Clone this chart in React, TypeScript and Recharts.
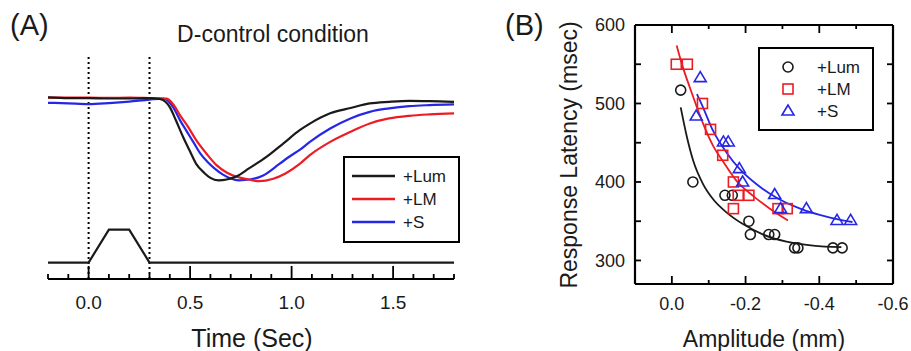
import { ComposedChart, Line, Scatter, XAxis, YAxis, ReferenceLine } from 'recharts'

const FONT = '"Liberation Sans", Arial, Helvetica, sans-serif'
const INK = '#1a1a1a'
const FRAME = 'black'
const RED = '#ec1c24'
const BLUE = '#2626e6'

const seriesNames = ['+Lum', '+LM', '+S']
const seriesColors = [INK, RED, BLUE]
const seriesMarkers = ['circle', 'square', 'triangle']

// (A) pupil traces: time in sec, pupil size scaled so the dip is about -1
const timeDomain = [-0.2, 1.8]
const pupilDomain = [-2.2, 0.5]
const timeTicks = [-0.2, -0.1, 0, 0.1, 0.2, 0.3, 0.4, 0.5, 0.6, 0.7, 0.8, 0.9, 1, 1.1, 1.2, 1.3, 1.4, 1.5, 1.6, 1.7, 1.8]
const timeLabels = [0, 0.5, 1, 1.5]
const stimulusWindow = [0, 0.3]

const lumTrace: [number, number][] = [
  [-0.2, 0.01], [-0.1, 0], [0, 0], [0.1, -0.005], [0.2, -0.005], [0.3, 0], [0.35, -0.01],
  [0.4, -0.11], [0.43, -0.27], [0.465, -0.47], [0.5, -0.65], [0.53, -0.8], [0.57, -0.91],
  [0.6, -0.97], [0.64, -1.0], [0.68, -0.99], [0.73, -0.95], [0.79, -0.855], [0.876, -0.715],
  [0.96, -0.55], [1.04, -0.39], [1.09, -0.31], [1.19, -0.185], [1.29, -0.12], [1.385, -0.065],
  [1.48, -0.045], [1.58, -0.033], [1.68, -0.036], [1.8, -0.045],
]
const lmTrace: [number, number][] = [
  [-0.2, 0.006], [-0.1, 0.006], [0, 0.006], [0.1, 0.002], [0.2, 0.006], [0.3, 0], [0.385, -0.006],
  [0.42, -0.085], [0.45, -0.207], [0.49, -0.349], [0.53, -0.511], [0.58, -0.673], [0.63, -0.815],
  [0.68, -0.904], [0.73, -0.957], [0.79, -0.99], [0.84, -1.01], [0.91, -0.98], [0.97, -0.916],
  [1.04, -0.8], [1.09, -0.693], [1.19, -0.532], [1.29, -0.41], [1.385, -0.308], [1.48, -0.247],
  [1.58, -0.215], [1.68, -0.198], [1.8, -0.186],
]
const sTrace: [number, number][] = [
  [-0.2, -0.057], [-0.1, -0.064], [0, -0.073], [0.1, -0.061], [0.2, -0.043], [0.3, -0.018],
  [0.37, -0.006], [0.42, -0.125], [0.45, -0.268], [0.485, -0.41], [0.52, -0.551], [0.55, -0.673],
  [0.585, -0.775], [0.62, -0.855], [0.66, -0.928], [0.7, -0.977], [0.74, -1.0], [0.795, -0.99],
  [0.86, -0.94], [0.94, -0.8], [0.99, -0.71], [1.04, -0.63], [1.09, -0.532], [1.19, -0.369],
  [1.29, -0.247], [1.385, -0.167], [1.48, -0.125], [1.58, -0.097], [1.68, -0.085], [1.8, -0.077],
]
const stimulusTrace: [number, number][] = [
  [-0.2, -2], [0, -2], [0.1, -1.6], [0.2, -1.6], [0.3, -2], [1.8, -2],
]

// (B) latency vs amplitude
const ampDomain = [-0.6, 0.1]
const latencyDomain = [270, 600]
const ampTicks = [0, -0.1, -0.2, -0.3, -0.4, -0.5, -0.6]
const ampLabels = [0, -0.2, -0.4, -0.6]
const latencyTicks = [300, 350, 400, 450, 500, 550, 600]
const latencyLabels = [300, 400, 500, 600]

const lumAmp = [-0.024, -0.057, -0.144, -0.164, -0.209, -0.213, -0.263, -0.279, -0.333, -0.342, -0.437, -0.462]
const lumLatency = [517, 400, 383, 383, 350, 333, 333, 333, 316, 316, 316, 316]
const lmAmp = [-0.012, -0.042, -0.083, -0.105, -0.138, -0.167, -0.167, -0.18, -0.209, -0.288, -0.313]
const lmLatency = [550, 550, 500, 467, 434, 400, 366, 383, 383, 366, 366]
const sAmp = [-0.077, -0.066, -0.14, -0.153, -0.183, -0.192, -0.279, -0.295, -0.365, -0.448, -0.485]
const sLatency = [533, 484, 451, 451, 417, 400, 384, 366, 366, 351, 351]

const lumFit: [number, number][] = [
  [-0.024, 495], [-0.041, 457], [-0.058, 427], [-0.085, 397], [-0.112, 378], [-0.149, 361],
  [-0.194, 346], [-0.248, 333], [-0.311, 324], [-0.383, 319], [-0.46, 317],
]
const lmFit: [number, number][] = [
  [-0.013, 574], [-0.03, 546], [-0.049, 520], [-0.065, 499], [-0.085, 474], [-0.112, 446],
  [-0.139, 426], [-0.176, 401], [-0.221, 382], [-0.266, 366], [-0.315, 351],
]
const sFit: [number, number][] = [
  [-0.068, 512], [-0.081, 499], [-0.112, 465], [-0.149, 437], [-0.185, 416], [-0.23, 397],
  [-0.284, 380], [-0.338, 368], [-0.401, 358], [-0.464, 351], [-0.49, 349],
]

const tracePts = (pairs: [number, number][]) => pairs.map(([t, v]) => ({ t, v }))
const fitPts = (pairs: [number, number][]) => pairs.map(([x, y]) => ({ x, y }))
const zipPts = (xs: number[], ys: number[]) => xs.map((x, i) => ({ x, y: ys[i] }))

const traces = [tracePts(lumTrace), tracePts(lmTrace), tracePts(sTrace)]
const fits = [fitPts(lumFit), fitPts(lmFit), fitPts(sFit)]
const points = [zipPts(lumAmp, lumLatency), zipPts(lmAmp, lmLatency), zipPts(sAmp, sLatency)]

function Marker({ kind, cx, cy, color }: any) {
  if (kind === 'square') {
    return <rect x={cx - 5} y={cy - 5} width={10} height={10} fill="none" stroke={color} strokeWidth={1.6} />
  }
  if (kind === 'triangle') {
    return <polygon points={`${cx},${cy - 6} ${cx - 6},${cy + 4} ${cx + 6},${cy + 4}`} fill="none" stroke={color} strokeWidth={1.6} />
  }
  return <circle cx={cx} cy={cy} r={5} fill="none" stroke={color} strokeWidth={1.6} />
}

// tick marks point into the plot; labels only on the major ones
function TimeTick({ x, y, payload }: any) {
  const major = timeLabels.includes(payload.value)
  const len = major ? 13 : 5
  return (
    <g>
      <rect x={x - 0.9} y={y - len} width={1.8} height={len} fill={FRAME} />
      {major && (
        <text x={x} y={y + 30} textAnchor="middle" fontSize={19} fontFamily={FONT} fill={INK}>
          {payload.value.toFixed(1)}
        </text>
      )}
    </g>
  )
}

function BoxTick({ x, y, payload, side, labels }: any) {
  const v = payload.value
  const major = labels.includes(v)
  const vertical = side === 'left' || side === 'right'
  const len = vertical ? 6 : major ? 8 : 4
  let mark = null
  if (side === 'bottom') mark = <rect x={x - 0.9} y={y - len} width={1.8} height={len} fill={FRAME} />
  if (side === 'top') mark = <rect x={x - 0.9} y={y} width={1.8} height={len} fill={FRAME} />
  if (side === 'left') mark = <rect x={x} y={y - 0.9} width={len} height={1.8} fill={FRAME} />
  if (side === 'right') mark = <rect x={x - len} y={y - 0.9} width={len} height={1.8} fill={FRAME} />
  return (
    <g>
      {mark}
      {major && side === 'bottom' && (
        <text x={x} y={y + 26} textAnchor="middle" fontSize={18} fontFamily={FONT} fill={INK}>
          {v.toFixed(1)}
        </text>
      )}
      {major && side === 'left' && (
        <text x={x - 10} y={y + 6.4} textAnchor="end" fontSize={18} fontFamily={FONT} fill={INK}>
          {String(v)}
        </text>
      )}
    </g>
  )
}

// legends and titles are drawn as svg children of the charts
function TraceLegend({ left, top }: any) {
  return (
    <g transform={`translate(${left},${top})`}>
      <rect x={1} y={1} width={115} height={85} fill="#fff" stroke={FRAME} strokeWidth={2} />
      {seriesNames.map((name, i) => (
        <g key={name}>
          <line x1={9} x2={52} y1={20 + 23 * i} y2={20 + 23 * i} stroke={seriesColors[i]} strokeWidth={2.6} />
          <text x={60} y={26 + 23 * i} fontSize={17} fontFamily={FONT} fill={INK}>{name}</text>
        </g>
      ))}
    </g>
  )
}

function MarkerLegend({ left, top }: any) {
  return (
    <g transform={`translate(${left},${top})`}>
      <rect x={1} y={1} width={114} height={82} fill="#fff" stroke={FRAME} strokeWidth={2} />
      {seriesNames.map((name, i) => (
        <g key={name}>
          <Marker kind={seriesMarkers[i]} cx={30} cy={20 + 22 * i} color={seriesColors[i]} />
          <text x={59} y={26 + 22 * i} fontSize={17} fontFamily={FONT} fill={INK}>{name}</text>
        </g>
      ))}
    </g>
  )
}

const frameLine = { stroke: FRAME, strokeWidth: 2.2 }

export default function App() {
  return (
    <div style={{ position: 'absolute', left: 0, top: 0, width: 911, height: 351, background: '#fff' }}>
      <div style={{ position: 'absolute', left: 0, top: 0 }}>
        <ComposedChart width={470} height={351} margin={{ top: 57, right: 16, bottom: 42, left: 48 }}>
          <XAxis
            type="number" dataKey="t" domain={timeDomain} allowDataOverflow
            ticks={timeTicks} interval={0} tickSize={0} tickMargin={0} tickLine={false} height={30}
            axisLine={frameLine} tick={<TimeTick />}
          />
          <YAxis type="number" dataKey="v" domain={pupilDomain} allowDataOverflow hide />
          {stimulusWindow.map((t) => (
            <ReferenceLine key={t} x={t} stroke={FRAME} strokeWidth={2} strokeDasharray="2 3" />
          ))}
          <Line data={tracePts(stimulusTrace)} dataKey="v" type="linear" stroke={INK} strokeWidth={2.2}
            dot={false} isAnimationActive={false} />
          {[2, 1, 0].map((i) => (
            <Line key={seriesNames[i]} data={traces[i]} dataKey="v" type="monotone"
              stroke={seriesColors[i]} strokeWidth={2.2} dot={false} isAnimationActive={false} />
          ))}
          <TraceLegend left={343} top={156} />
          <text x={10} y={35} fontSize={29} fontFamily={FONT} fill={INK}>(A)</text>
          <text x={273} y={41.7} textAnchor="middle" fontSize={23} fontFamily={FONT} fill={INK}>D-control condition</text>
          <text x={252} y={347} textAnchor="middle" fontSize={25} fontFamily={FONT} fill={INK}>Time (Sec)</text>
        </ComposedChart>
      </div>

      <div style={{ position: 'absolute', left: 480, top: 0 }}>
        <ComposedChart width={431} height={351} margin={{ top: 24, right: 17, bottom: 37, left: 105 }}>
          <XAxis
            xAxisId="b" type="number" dataKey="x" domain={ampDomain} reversed allowDataOverflow
            ticks={ampTicks} interval={0} tickSize={0} tickMargin={0} tickLine={false} height={30}
            axisLine={frameLine} tick={<BoxTick side="bottom" labels={ampLabels} />}
          />
          <XAxis
            xAxisId="t" orientation="top" type="number" dataKey="x" domain={ampDomain} reversed allowDataOverflow
            ticks={ampTicks} interval={0} tickSize={0} tickMargin={0} tickLine={false} height={1}
            axisLine={frameLine} tick={<BoxTick side="top" labels={ampLabels} />}
          />
          <YAxis
            yAxisId="l" type="number" dataKey="y" domain={latencyDomain} allowDataOverflow
            ticks={latencyTicks} interval={0} tickSize={0} tickMargin={0} tickLine={false} width={50}
            axisLine={frameLine} tick={<BoxTick side="left" labels={latencyLabels} />}
          />
          <YAxis
            yAxisId="r" orientation="right" type="number" dataKey="y" domain={latencyDomain} allowDataOverflow
            ticks={latencyTicks} interval={0} tickSize={0} tickMargin={0} tickLine={false} width={1}
            axisLine={frameLine} tick={<BoxTick side="right" labels={latencyLabels} />}
          />
          {seriesNames.map((name, i) => (
            <Line key={'fit' + name} xAxisId={i === 0 ? 't' : 'b'} yAxisId={i === 0 ? 'r' : 'l'} data={fits[i]}
              dataKey="y" type="monotone" stroke={seriesColors[i]} strokeWidth={1.8} dot={false} isAnimationActive={false} />
          ))}
          {seriesNames.map((name, i) => (
            <Scatter key={name} xAxisId="b" yAxisId="l" data={points[i]} fill={seriesColors[i]}
              isAnimationActive={false}
              shape={(p: any) => <Marker kind={seriesMarkers[i]} cx={p.cx} cy={p.cy} color={seriesColors[i]} />} />
          ))}
          <MarkerLegend left={278} top={47} />
          <text x={25} y={35} fontSize={29} fontFamily={FONT} fill={INK}>(B)</text>
          <text x={284} y={347} textAnchor="middle" fontSize={23} fontFamily={FONT} fill={INK}>Amplitude (mm)</text>
          <text x={97} y={155} textAnchor="middle" fontSize={23} fontFamily={FONT} fill={INK}
            transform="rotate(-90 97 155)">Response Latency (msec)</text>
        </ComposedChart>
      </div>
    </div>
  )
}
